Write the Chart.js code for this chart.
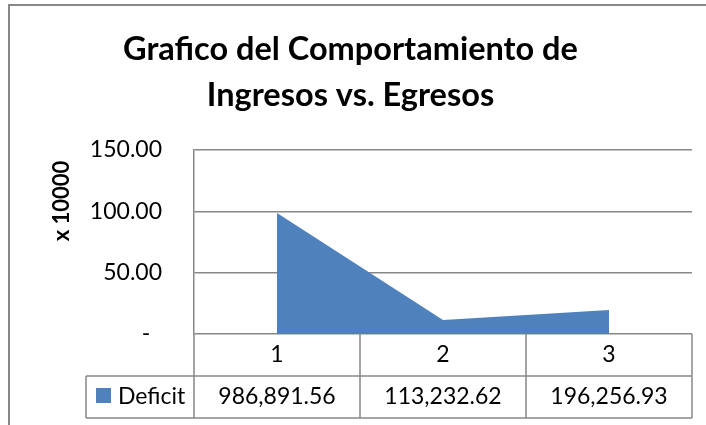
<!DOCTYPE html>
<html>
<head>
<meta charset="utf-8">
<script src="https://cdn.jsdelivr.net/npm/chart.js@4.4.1/dist/chart.umd.min.js"></script>
<style>
  html, body { margin: 0; padding: 0; background: #fff; }
</style>
</head>
<body>
<canvas id="grafico" width="706" height="425"></canvas>
<script>
const categorias = ['1', '2', '3'];
const deficit = [986891.56, 113232.62, 196256.93];
const escala = 10000;
const colorArea = '#4f81bd';
const colorLinea = '#888888';

const fmt = v => v.toLocaleString('en-US', { minimumFractionDigits: 2, maximumFractionDigits: 2 });

// marco, tabla de datos y titulo del eje (como en Excel)
const tablaDatos = {
  id: 'tablaDatos',
  beforeDraw(chart) {
    const ctx = chart.ctx;
    ctx.save();
    ctx.fillStyle = '#fff';
    ctx.fillRect(0, 0, chart.width, chart.height);
    ctx.strokeStyle = colorLinea;
    ctx.lineWidth = 2;
    ctx.beginPath();
    ctx.moveTo(9, chart.height);
    ctx.lineTo(9, 5);
    ctx.lineTo(chart.width, 5);
    ctx.stroke();
    ctx.restore();
  },
  afterDraw(chart) {
    const { ctx, chartArea: a, scales: { x } } = chart;
    const filaH = 42;
    const y0 = a.bottom, y1 = y0 + filaH, y2 = y1 + filaH;
    const leyendaX = 86;
    const bordes = [a.left];
    for (let i = 0; i < categorias.length - 1; i++) {
      bordes.push((x.getPixelForValue(i) + x.getPixelForValue(i + 1)) / 2);
    }
    bordes.push(a.right);

    ctx.save();
    ctx.strokeStyle = colorLinea;
    ctx.lineWidth = 1.5;
    ctx.beginPath();
    bordes.forEach(bx => { ctx.moveTo(bx, y0); ctx.lineTo(bx, y2); });
    ctx.moveTo(leyendaX, y1); ctx.lineTo(a.right, y1);
    ctx.moveTo(leyendaX, y2); ctx.lineTo(a.right, y2);
    ctx.moveTo(leyendaX, y1); ctx.lineTo(leyendaX, y2);
    ctx.stroke();

    ctx.fillStyle = '#000';
    ctx.font = '23px Lato';
    ctx.textAlign = 'center';
    ctx.textBaseline = 'middle';
    categorias.forEach((c, i) => {
      const cx = x.getPixelForValue(i);
      ctx.fillText(c, cx, (y0 + y1) / 2);
      ctx.fillText(fmt(deficit[i]), cx, (y1 + y2) / 2);
    });

    ctx.fillStyle = colorArea;
    ctx.fillRect(96, 388, 15, 15);
    ctx.fillStyle = '#000';
    ctx.textAlign = 'left';
    ctx.fillText(chart.data.datasets[0].label, 118, (y1 + y2) / 2);

    ctx.translate(62, 201);
    ctx.rotate(-Math.PI / 2);
    ctx.font = 'bold 22px Lato';
    ctx.textAlign = 'center';
    ctx.fillText('x 10000', 0, 0);
    ctx.restore();
  }
};

new Chart(document.getElementById('grafico'), {
  type: 'line',
  data: {
    labels: categorias,
    datasets: [{
      label: 'Deficit',
      data: deficit.map(v => v / escala),
      fill: 'origin',
      backgroundColor: colorArea,
      borderColor: colorArea,
      borderWidth: 0,
      pointRadius: 0,
      tension: 0
    }]
  },
  options: {
    responsive: false,
    animation: false,
    layout: { padding: { left: 9, right: 14, top: 0, bottom: 91 } },
    plugins: {
      legend: { display: false },
      tooltip: { enabled: false },
      title: {
        display: true,
        text: ['Grafico del Comportamiento de', 'Ingresos vs. Egresos'],
        color: '#000',
        font: { family: 'Lato', size: 32.5, weight: 'bold', lineHeight: 46 / 32.5 },
        padding: { top: 27, bottom: 31 }
      }
    },
    scales: {
      x: {
        display: false,
        offset: true
      },
      y: {
        min: 0,
        max: 150,
        afterFit: s => { s.width = 185; },
        border: { display: true, color: colorLinea, width: 1.5 },
        grid: { color: colorLinea, lineWidth: 1.5, drawTicks: false },
        ticks: {
          stepSize: 50,
          padding: 32,
          color: '#000',
          font: { family: 'Lato', size: 23 },
          callback: v => v === 0 ? '-  ' : v.toFixed(2)
        }
      }
    }
  },
  plugins: [tablaDatos]
});
</script>
</body>
</html>
